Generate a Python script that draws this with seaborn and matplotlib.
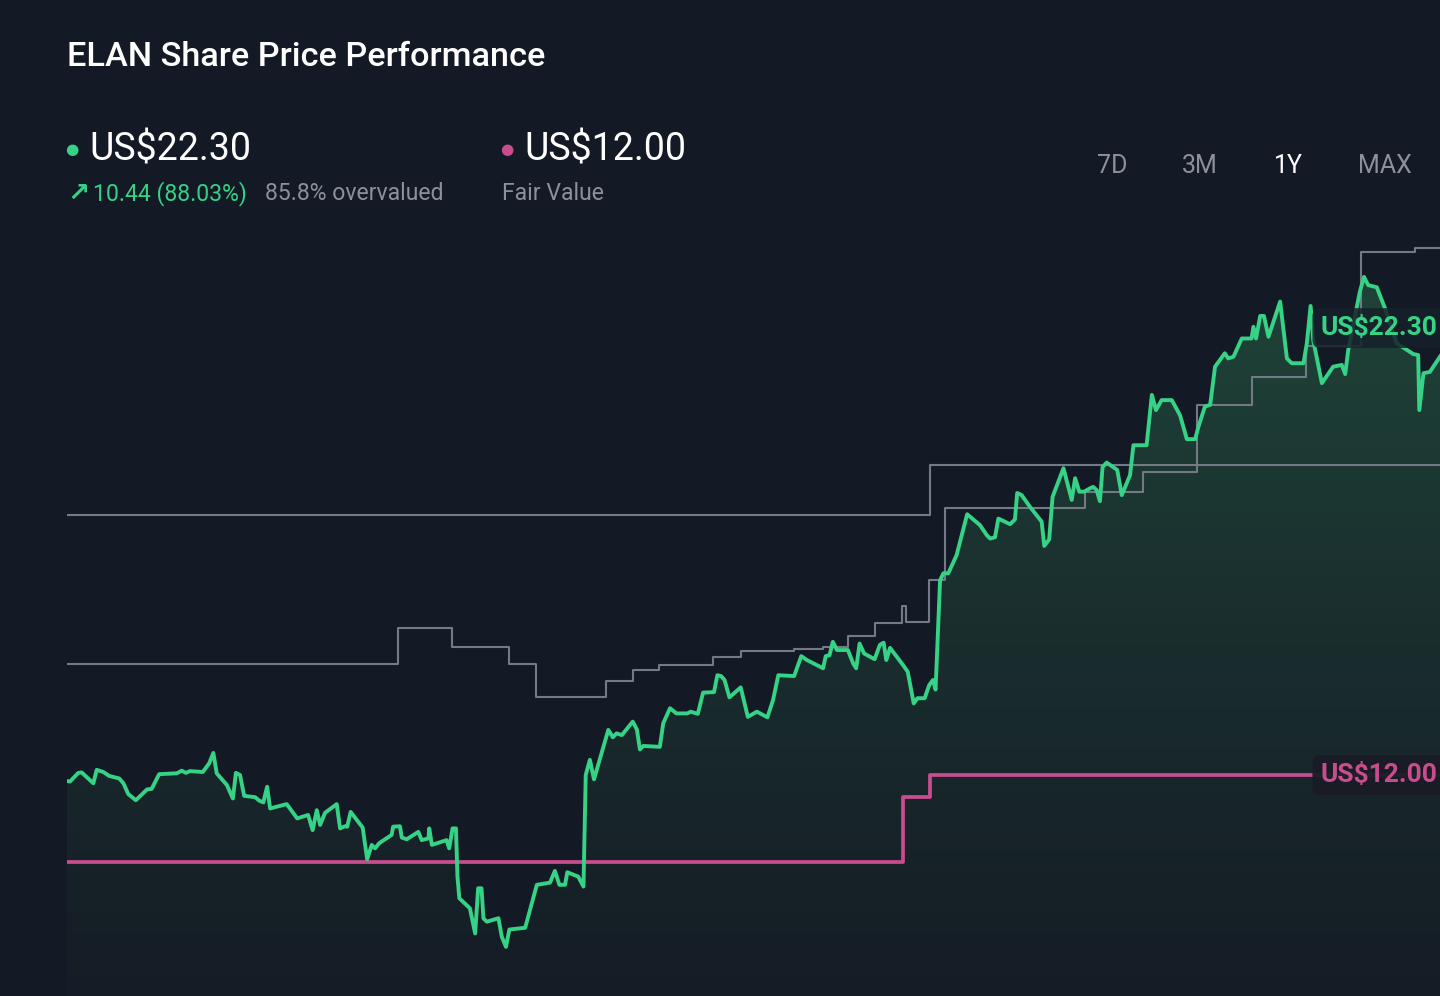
import numpy as np
import pandas as pd
import matplotlib
matplotlib.use("Agg")
import matplotlib.pyplot as plt
import matplotlib.transforms as mtransforms
from matplotlib.colors import LinearSegmentedColormap
import seaborn as sns

# ELAN share price, last 12 months (day 0 = one year ago)
days = [0, 0.8, 3.0, 3.9, 7.0, 7.9, 9.65, 11.2, 13.9, 15.0, 16.3, 18.3, 21.3, 22.5, 24.5,
        29.2, 30.5, 31.6, 32.7, 36.1, 37.8, 38.9, 39.8, 42.5, 44.1, 44.9, 46.0, 47.1, 50.0,
        51.1, 52.2, 53.2, 54.0, 58.4, 61.2, 64.1, 65.3, 66.4, 67.3, 68.6, 71.7, 72.6, 73.9,
        74.5, 75.4, 78.6, 79.8, 81.0, 81.9, 83.0, 86.3, 86.7, 88.5, 89.0, 90.3, 93.4, 94.3,
        96.1, 96.3, 97.0, 100.9, 101.6, 102.5, 103.4, 103.8, 104.3, 107.1, 108.5, 109.3,
        110.2, 110.7, 111.6, 114.7, 115.6, 116.7, 117.6, 121.8, 124.9, 128.4, 129.7, 130.9,
        132.4, 133.0, 135.9, 137.3, 137.9, 139.0, 140.1, 143.9, 145.1, 146.1, 147.5, 150.4,
        151.5, 152.3, 153.2, 157.6, 158.5, 160.3, 162.0, 164.9, 165.8, 167.7, 169.1, 172.0,
        172.9, 173.9, 174.8, 176.1, 179.1, 181.0, 183.4, 186.2, 187.7, 189.1, 193.3, 195.2,
        196.7, 201.0, 201.7, 202.7, 203.6, 204.7, 207.6, 209.0, 209.8, 210.7, 211.9, 214.7,
        216.1, 217.1, 217.8, 218.8, 222.3, 223.5, 225.1, 226.1, 228.0, 229.2, 230.2, 230.9,
        232.1, 233.0, 234.3, 236.5, 239.3, 242.7, 244.5, 245.4, 246.7, 247.6, 250.7, 252.0,
        252.6, 253.8, 256.0, 259.1, 259.8, 261.1, 262.0, 264.9, 267.1, 268.0, 269.1, 270.4,
        272.0, 272.8, 273.7, 274.6, 275.3, 276.4, 279.2, 280.4, 282.6, 283.5, 287.0, 288.4,
        289.5, 291.0, 293.7, 295.9, 297.7, 299.9, 300.8, 302.5, 303.9, 305.2, 307.8, 308.7,
        310.1, 312.3, 314.9, 315.4, 316.1, 317.2, 318.2, 319.4, 322.5, 324.3, 325.6, 328.7,
        329.6, 330.6, 331.3, 333.6, 336.6, 338.9, 339.8, 340.6, 343.7, 344.8, 345.9, 348.2,
        350.4, 353.5, 357.9, 359.2, 359.5, 360.6, 362.3, 365.0, 370.0]
price = [11.86, 11.85, 12.05, 12.06, 11.81, 12.12, 12.07, 11.98, 11.92, 11.81, 11.56, 11.42,
         11.67, 11.68, 12.02, 12.04, 12.10, 12.05, 12.09, 12.07, 12.27, 12.51, 12.04, 11.77,
         11.46, 12.05, 12.00, 11.52, 11.49, 11.41, 11.37, 11.73, 11.23, 11.33, 11.00, 11.08,
         10.73, 11.19, 10.85, 11.13, 11.33, 10.77, 10.82, 10.81, 11.15, 10.79, 10.06, 10.39,
         10.31, 10.43, 10.62, 10.81, 10.82, 10.56, 10.52, 10.69, 10.50, 10.54, 10.77, 10.39,
         10.50, 10.31, 10.77, 10.77, 9.66, 9.16, 8.93, 8.35, 9.39, 9.39, 8.70, 8.62, 8.70,
         8.27, 8.04, 8.44, 8.48, 9.47, 9.52, 9.79, 9.47, 9.47, 9.76, 9.66, 9.43, 12.00, 12.35,
         11.90, 13.04, 12.87, 12.96, 12.92, 13.23, 13.05, 12.59, 12.67, 12.65, 13.19, 13.54,
         13.42, 13.42, 13.46, 13.41, 13.90, 13.91, 14.30, 14.28, 14.19, 13.79, 14.02, 13.34,
         13.46, 13.33, 13.73, 14.30, 14.28, 14.74, 14.65, 14.46, 14.74, 14.76, 15.07, 14.88,
         14.88, 14.57, 14.46, 15.03, 14.80, 14.67, 15.00, 15.05, 14.65, 14.93, 14.53, 14.38,
         13.65, 13.77, 13.77, 14.07, 14.19, 13.97, 16.49, 16.65, 16.65, 17.07, 18.01, 17.76,
         17.53, 17.45, 17.48, 17.91, 17.78, 17.89, 18.50, 18.45, 18.18, 17.84, 17.28, 17.43,
         18.41, 19.07, 18.34, 18.84, 18.53, 18.53, 18.61, 18.64, 18.57, 18.31, 19.10, 19.20,
         19.03, 18.45, 18.91, 19.60, 19.60, 20.76, 20.41, 20.64, 20.64, 20.29, 19.74, 19.74,
         20.03, 20.49, 20.53, 21.41, 21.72, 21.60, 21.64, 22.06, 22.06, 22.33, 22.06, 22.58,
         22.58, 22.10, 22.91, 21.60, 21.49, 21.49, 21.95, 22.81, 22.02, 21.03, 21.41, 21.45,
         21.24, 21.79, 23.14, 23.48, 23.29, 23.24, 22.75, 21.95, 21.70, 21.68, 20.41, 21.26,
         21.29, 21.64, 22.30]

# analyst price target (stepped)
target_days = [0, 88.0, 102.4, 117.6, 124.8, 143.2, 150.4, 157.5, 171.8, 179.1, 193.3, 200.9,
               207.6, 214.9, 222.1, 223.0, 229.2, 233.4, 270.6, 286.1, 300.3, 314.9, 329.4,
               343.9, 358.4, 370.0]
target_vals = [14.55, 15.38, 14.96, 14.57, 13.79, 14.17, 14.42, 14.53, 14.73, 14.86, 14.90,
               14.94, 15.21, 15.50, 15.89, 15.53, 16.49, 18.16, 18.53, 18.99, 20.53, 21.18,
               21.88, 24.06, 24.14, 24.14]

# second analyst line
high_days = [0, 229.3, 370.0]
high_vals = [18.00, 19.14, 19.14]

# fair value estimate
fair_days = [0, 222.2, 229.4, 370.0]
fair_vals = [10.00, 11.50, 12.00, 12.00]

last_price = 22.30
fair_value = 12.00

BG = "#141a25"
GREEN = "#36d286"
PINK = "#c74d8e"
GREY = "#737985"
MUTED = "#8b9099"

sns.set_theme(style="dark")
plt.rcParams["font.family"] = ["Roboto", "DejaVu Sans"]

fig = plt.figure(figsize=(14.4, 9.96), dpi=100)
fig.patch.set_facecolor(BG)
ax = fig.add_axes([67 / 1440, 0, 1373 / 1440, 766 / 996])
ax.set_facecolor(BG)
ylo, yhi = 6.908, 24.56
ax.set_xlim(0, 365)
ax.set_ylim(ylo, yhi)
ax.axis("off")

# gradient fill under the price line
fill = ax.fill_between(days, price, ylo, color="none", lw=0)
cmap = LinearSegmentedColormap.from_list("g", ["#151c25", "#1a2e2e", "#1f4539"])
grad = np.linspace(0, 1, 256).reshape(-1, 1)
im = ax.imshow(grad, extent=[0, 370, ylo, 24.0], origin="lower", aspect="auto",
               cmap=cmap, zorder=1)
im.set_clip_path(fill.get_paths()[0], transform=ax.transData)

tgt = pd.DataFrame({"day": target_days, "val": target_vals})
hi = pd.DataFrame({"day": high_days, "val": high_vals})
fv = pd.DataFrame({"day": fair_days, "val": fair_vals})
px = pd.DataFrame({"day": days, "price": price})

sns.lineplot(data=hi, x="day", y="val", ax=ax, color=GREY, lw=1.5,
             drawstyle="steps-post", estimator=None, sort=False, zorder=3)
sns.lineplot(data=tgt, x="day", y="val", ax=ax, color=GREY, lw=1.5,
             drawstyle="steps-post", estimator=None, sort=False, zorder=3)
sns.lineplot(data=fv, x="day", y="val", ax=ax, color=PINK, lw=2.7,
             drawstyle="steps-post", estimator=None, sort=False, zorder=4)
sns.lineplot(data=px, x="day", y="price", ax=ax, color=GREEN, lw=2.8,
             estimator=None, sort=False, zorder=5)
ax.set_xlim(0, 365)
ax.set_ylim(ylo, yhi)

# end-of-line value tags
tr = mtransforms.blended_transform_factory(ax.transAxes, ax.transData)
ax.text(0.998, last_price, f"US${last_price:.2f}", transform=tr, ha="right", va="center",
        color=GREEN, fontsize=19, fontweight="bold", zorder=7,
        bbox=dict(boxstyle="round,pad=0.3", fc="#16202a", ec="none", alpha=0.85))
ax.text(0.998, fair_value, f"US${fair_value:.2f}", transform=tr, ha="right", va="center",
        color=PINK, fontsize=19, fontweight="bold", zorder=7,
        bbox=dict(boxstyle="round,pad=0.3", fc="#1a1c25", ec="none", alpha=0.95))

# header
def fx(p):
    return p / 1440

def fy(p):
    return 1 - p / 996

fig.text(fx(67), fy(57), "ELAN Share Price Performance", color="white", fontsize=24.7,
         fontweight="medium", va="center")

change = last_price - 11.86
fig.text(fx(65), fy(150), "●", color=GREEN, fontsize=11, va="center")
fig.text(fx(89), fy(150), f"US${last_price:.2f}", color="white", fontsize=27, va="center")
fig.text(fx(67), fy(194), "↗", color=GREEN, fontsize=19, va="center", fontweight="bold")
fig.text(fx(93), fy(194), f"{change:.2f} (88.03%)", color=GREEN, fontsize=16.6, va="center")
fig.text(fx(265), fy(194), "85.8% overvalued", color=MUTED, fontsize=16.6, va="center")

fig.text(fx(500), fy(150), "●", color=PINK, fontsize=11, va="center")
fig.text(fx(524), fy(150), f"US${fair_value:.2f}", color="white", fontsize=27, va="center")
fig.text(fx(502), fy(194), "Fair Value", color=MUTED, fontsize=16.6, va="center")

for lbl, cx in zip(["7D", "3M", "1Y", "MAX"], [1112, 1200, 1288, 1385]):
    fig.text(fx(cx), fy(166), lbl, color="white" if lbl == "1Y" else MUTED,
             fontsize=18, ha="center", va="center")

fig.savefig("out.png", dpi=100, facecolor=BG)
